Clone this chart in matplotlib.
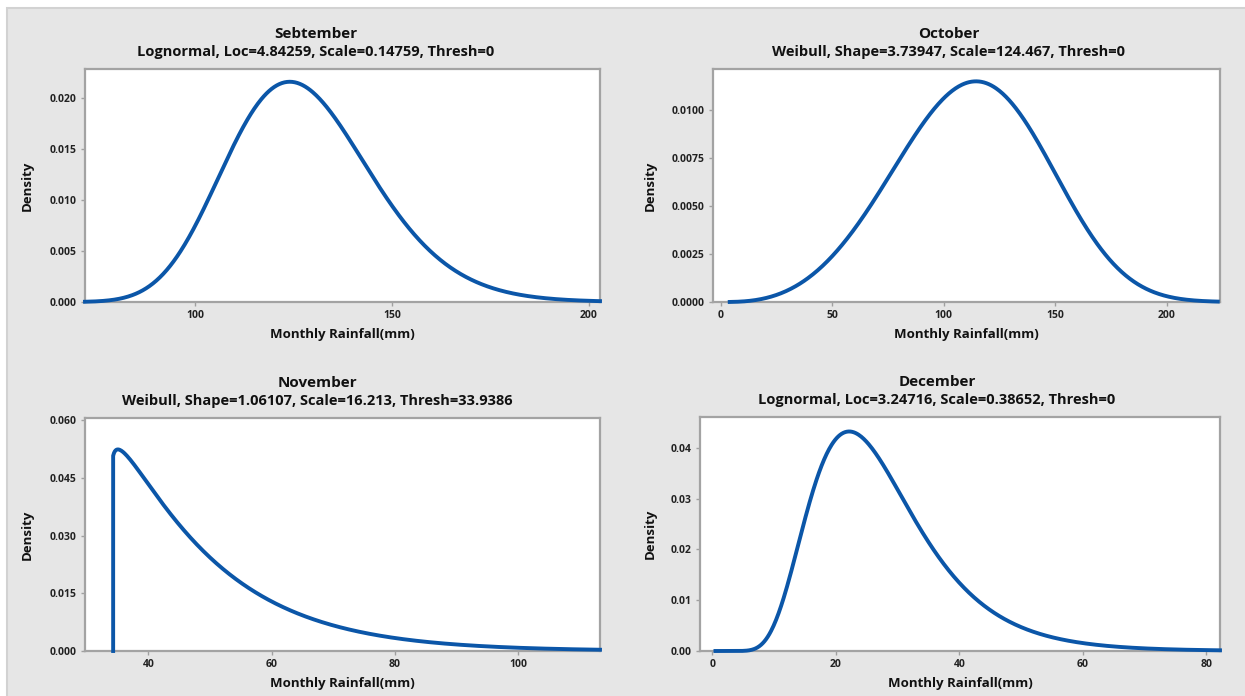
import numpy as np
import matplotlib.pyplot as plt
from matplotlib.patches import Rectangle

plt.rcParams['font.family'] = ['Open Sans', 'DejaVu Sans']

# fitted distributions of monthly rainfall
months = ['Sebtember', 'October', 'November', 'December']
dists = ['Lognormal', 'Weibull', 'Weibull', 'Lognormal']
param_a = [4.84259, 3.73947, 1.06107, 3.24716]     # Loc (lognormal) / Shape (weibull)
param_b = [0.14759, 124.467, 16.213, 0.38652]      # Scale
thresh = [0, 0, 33.9386, 0]
subtitles = [
    'Lognormal, Loc=4.84259, Scale=0.14759, Thresh=0',
    'Weibull, Shape=3.73947, Scale=124.467, Thresh=0',
    'Weibull, Shape=1.06107, Scale=16.213, Thresh=33.9386',
    'Lognormal, Loc=3.24716, Scale=0.38652, Thresh=0',
]
x_from = [72.1, 4.0, 34.27, 0.5]
x_to = [202.8, 223.0, 113.3, 82.2]

xlims = [(72.1, 202.8), (-3.5, 224.0), (29.7, 113.3), (-2.0, 82.2)]
ylims = [0.0228, 0.01214, 0.0606, 0.0461]
xticks = [[100, 150, 200], [0, 50, 100, 150, 200], [40, 60, 80, 100],
          [0, 20, 40, 60, 80]]
yticks = [np.arange(0, 0.0201, 0.005), np.arange(0, 0.01001, 0.0025),
          np.arange(0, 0.0601, 0.015), np.arange(0, 0.0401, 0.01)]
ydec = [3, 4, 3, 2]


def pdf(kind, a, b, t, x):
    z = x - t
    if kind == 'Lognormal':
        return np.exp(-(np.log(z) - a) ** 2 / (2 * b ** 2)) / (z * b * np.sqrt(2 * np.pi))
    u = z / b
    return (a / b) * u ** (a - 1) * np.exp(-u ** a)


W, H = 1245, 696
fig = plt.figure(figsize=(W / 100, H / 100), dpi=100)
fig.patch.set_facecolor('white')
fig.patches.append(Rectangle((7 / W, -0.01), 1, 1 - 8 / H + 0.01, transform=fig.transFigure,
                             facecolor='#e6e6e6', edgecolor='#d2d2d2', lw=1.5, zorder=-10))

# axes boxes in pixels: left, right, top, bottom
boxes = [(85, 600, 69, 302), (713, 1220, 69, 302), (85, 600, 418, 651), (700, 1220, 417, 651)]
title_cx = [316, 949, 317, 937]
ylab_x = [34, 657, 34, 657]
blue = '#0b56a8'

for i in range(4):
    l, r, t, b = boxes[i]
    ax = fig.add_axes([l / W, 1 - b / H, (r - l) / W, (b - t) / H])
    ax.set_facecolor('white')

    x = np.linspace(x_from[i], x_to[i], 600)
    y = pdf(dists[i], param_a[i], param_b[i], thresh[i], x)
    if thresh[i] > 0:
        x = np.r_[x[0], x]
        y = np.r_[0, y]
    ax.plot(x, y, color=blue, lw=2.8, zorder=3, clip_on=False, solid_joinstyle='miter')

    ax.set_xlim(*xlims[i])
    ax.set_ylim(0, ylims[i])
    ax.set_xticks(xticks[i])
    ax.set_yticks(yticks[i])
    ax.set_yticklabels([f'{v:.{ydec[i]}f}' for v in yticks[i]])
    ax.tick_params(length=3, width=1, color='#a0a0a0', labelsize=7.5, pad=3,
                   labelcolor='#222222')
    for lab in ax.get_xticklabels() + ax.get_yticklabels():
        lab.set_fontweight('bold')
    for s in ax.spines.values():
        s.set_color('#a3a3a3')
        s.set_linewidth(1.6)

    ax.set_xlabel('Monthly Rainfall(mm)', fontsize=9.5, fontweight='bold',
                  color='#111111', labelpad=5)
    ax.set_ylabel('Density', fontsize=9.5, fontweight='bold', color='#111111')
    ax.yaxis.set_label_coords((ylab_x[i] - l) / (r - l), 0.5)

    fig.text(title_cx[i] / W, 1 - (t - 35) / H, months[i], ha='center', va='center',
             fontsize=11, fontweight='bold', color='#111111')
    fig.text(title_cx[i] / W, 1 - (t - 17) / H, subtitles[i], ha='center', va='center',
             fontsize=10.5, fontweight='bold', color='#111111')

fig.savefig('out.png', dpi=100)
